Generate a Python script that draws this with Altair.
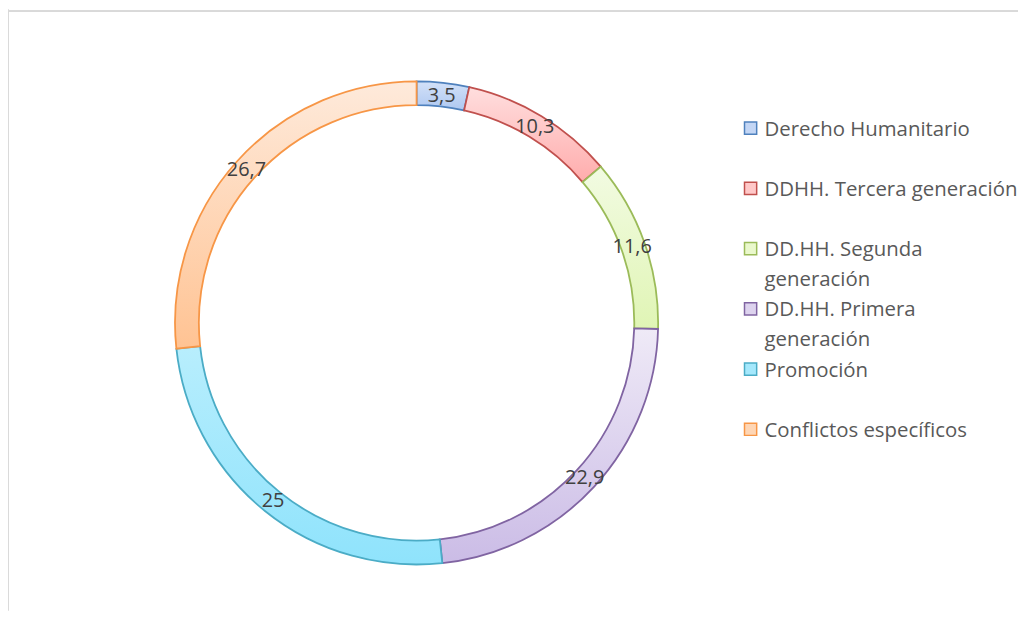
import altair as alt
import pandas as pd

# ---- data ----
categories = ["Derecho Humanitario", "DDHH. Tercera generación", "DD.HH. Segunda generación",
              "DD.HH. Primera generación", "Promoción", "Conflictos específicos"]
values = [3.5, 10.3, 11.6, 22.9, 25, 26.7]
legend_labels = ["Derecho Humanitario", "DDHH. Tercera generación", "DD.HH. Segunda\ngeneración",
                 "DD.HH. Primera\ngeneración", "Promoción", "Conflictos específicos"]

# ---- styles ----
strokes = ["#4f81bd", "#c0504d", "#9bbb59", "#8064a2", "#4bacc6", "#f79646"]
fill_top = ["#d3e1f8", "#ffdede", "#f2fbe2", "#efeaf7", "#b8eefd", "#feeadb"]
fill_bot = ["#aec8f1", "#ffacac", "#e0f5b5", "#cbbce6", "#8fe3fc", "#ffc393"]
fill_mid = ["#c3d6f5", "#ffc8c8", "#eaf8cc", "#ddd3ee", "#a5e8fc", "#fed6b5"]

df = pd.DataFrame({"cat": categories, "value": values, "legend": legend_labels,
                   "order": list(range(len(categories)))})

W, H = 1016, 604
CX, CY = 411, 315
R_OUT, R_IN = 243, 219

base = alt.Chart(df).transform_window(
    cum="sum(value)", sort=[alt.SortField("order")], frame=[None, 0]
).transform_calculate(
    start="datum.cum - datum.value",
    mid="datum.cum - datum.value / 2",
    lab="replace(toString(datum.value), '.', ',')",
)

theta_scale = alt.Scale(domain=[0, 100])

layers = []
# frame (top and left edge)
layers.append(base.mark_rule(color="#d9d9d9", strokeWidth=1.5).encode(
    x=alt.value(0), x2=alt.value(W), y=alt.value(1.5)))
layers.append(base.mark_rule(color="#d9d9d9", strokeWidth=1.5).encode(
    x=alt.value(0), y=alt.value(0), y2=alt.value(H)))

for i, c in enumerate(categories):
    grad = alt.Gradient(gradient="linear",
                        stops=[alt.GradientStop(color=fill_top[i], offset=0),
                               alt.GradientStop(color=fill_bot[i], offset=1)],
                        x1=0, x2=0, y1=0, y2=1)
    layers.append(
        base.transform_filter(alt.datum.cat == c).mark_arc(
            outerRadius=R_OUT, innerRadius=R_IN, fill=grad, stroke=strokes[i],
            strokeWidth=1.8
        ).encode(
            theta=alt.Theta("start:Q", scale=theta_scale),
            theta2="cum:Q",
            x=alt.value(CX), y=alt.value(CY),
        )
    )

# data labels
layers.append(base.mark_text(font="Open Sans", fontSize=20, color="#404040").encode(
    theta=alt.Theta("mid:Q", scale=theta_scale),
    radius=alt.value(230),
    x=alt.value(CX), y=alt.value(CY),
    text="lab:N",
))

# legend
ypos = alt.Y("cat:N", sort=categories, axis=None,
             scale=alt.Scale(type="point", range=[119, 422], padding=0))
layers.append(base.mark_square(size=150, strokeWidth=1.5, opacity=1).encode(
    x=alt.value(747),
    y=ypos,
    fill=alt.Fill("cat:N", scale=alt.Scale(domain=categories, range=fill_mid), legend=None),
    stroke=alt.Stroke("cat:N", scale=alt.Scale(domain=categories, range=strokes), legend=None),
))
layers.append(base.mark_text(font="Open Sans", fontSize=20.5, color="#595959", align="left",
                             baseline="alphabetic", dy=7.5, lineBreak="\n", lineHeight=30).encode(
    x=alt.value(761),
    y=ypos,
    text="legend:N",
))

chart = alt.layer(*layers).properties(
    width=W, height=H, padding=0, autosize=alt.AutoSizeParams(type="none"),
    background="white"
).configure_view(stroke=None)

chart.save("out.html", embed_options={"renderer": "svg", "actions": False})
